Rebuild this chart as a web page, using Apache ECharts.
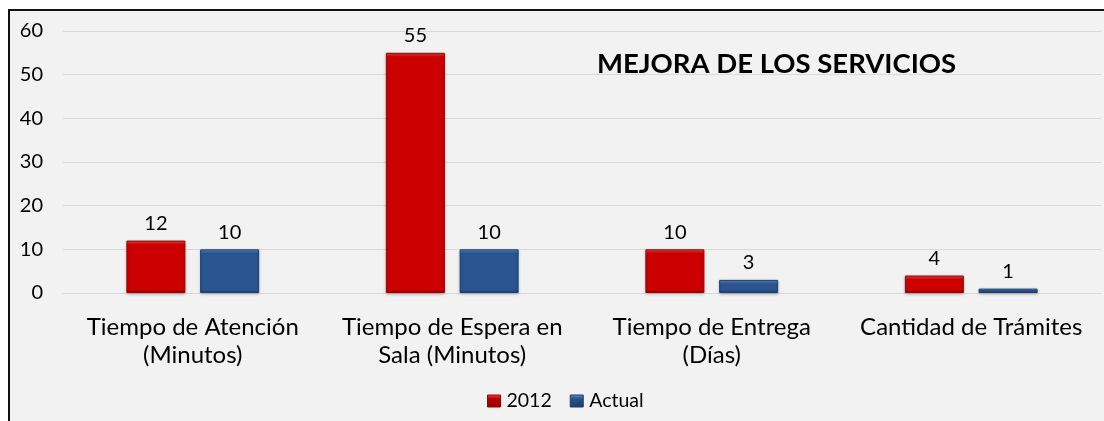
<!DOCTYPE html>
<html>
<head>
<meta charset="utf-8">
<script src="https://cdn.jsdelivr.net/npm/echarts@6/dist/echarts.min.js"></script>
<style>
html,body{margin:0;padding:0;background:#fff;overflow:hidden;width:1104px;height:421px;}
#chart{position:absolute;left:8px;top:9px;width:1096px;height:412px;
border-left:2px solid #111;border-top:2px solid #111;background:#f2f2f2;}
</style>
</head>
<body>
<div id="chart"></div>
<script>
// datos del gráfico
const categorias = [
"Tiempo de Atención\n(Minutos)",
"Tiempo de Espera en\nSala (Minutos)",
"Tiempo de Entrega\n(Días)",
"Cantidad de Trámites"
];
const valores2012 = [12, 55, 10, 4];
const valoresActual = [10, 10, 3, 1];
const ticksY = [0, 10, 20, 30, 40, 50, 60];

const fuente = "Lato, 'Open Sans', sans-serif";

// px por unidad (alto del área / rango) para un bisel de alto fijo
const altoGrid = 262;
const pxUnidad = altoGrid / (ticksY[ticksY.length-1] - ticksY[0]);

function bisel(claro, medio, oscuro){
return function(p){
const h = Math.max(p.value * pxUnidad, 1);
const a = Math.min(4 / h, 0.45);
const b = Math.min(3 / h, 0.45);
return new echarts.graphic.LinearGradient(0,0,0,1,[
{offset:0,color:claro},
{offset:a,color:medio},
{offset:1-b,color:medio},
{offset:1,color:oscuro}
]);
};
}

function cuadro(claro, medio, oscuro){
return new echarts.graphic.LinearGradient(0,0,0,1,[
{offset:0,color:claro},
{offset:0.3,color:medio},
{offset:1,color:oscuro}
]);
}

const chart = echarts.init(document.getElementById("chart"));

chart.setOption({
backgroundColor:"#f2f2f2",
animation:false,
title:{
text:"MEJORA DE LOS SERVICIOS",
left:582,
top:34,
textStyle:{fontFamily:fuente,fontSize:27.5,fontWeight:"bold",color:"#000"}
},
legend:{
top:375,
left:472,
icon:"rect",
itemWidth:13,
itemHeight:12,
itemGap:18,
textStyle:{fontFamily:fuente,fontSize:19.5,color:"#000",padding:[0,0,0,1]},
data:[
{name:"2012",itemStyle:{color:cuadro("#e85050","#c00000","#8a0000"),borderColor:"#9a0000",borderWidth:1}},
{name:"Actual",itemStyle:{color:cuadro("#6a92c8","#2a5591","#1a3a66"),borderColor:"#1d3f6e",borderWidth:1}}
]
},
grid:{left:53,right:5,top:20,bottom:130,containLabel:false},
xAxis:{
type:"category",
data:categorias,
axisLine:{show:true,lineStyle:{color:"#d9d9d9"}},
axisTick:{show:false},
axisLabel:{fontFamily:fuente,fontSize:24,color:"#000",lineHeight:28,margin:20,interval:0}
},
yAxis:{
type:"value",
min:ticksY[0],
max:ticksY[ticksY.length-1],
interval:10,
axisLine:{show:false},
axisTick:{show:false},
splitLine:{lineStyle:{color:"#d9d9d9"}},
axisLabel:{fontFamily:fuente,fontSize:20,color:"#000",margin:20,align:"right"}
},
series:[
{
name:"2012",
type:"bar",
data:valores2012,
barWidth:59,
barGap:"25%",
itemStyle:{
color:bisel("#f24a4a","#cc0000","#8a0000"),
borderColor:"#9a0000",
borderWidth:1,
shadowColor:"rgba(0,0,0,0.25)",
shadowBlur:3,
shadowOffsetY:1
},
label:{show:true,position:"top",distance:7,fontFamily:fuente,fontSize:20,color:"#000"}
},
{
name:"Actual",
type:"bar",
data:valoresActual,
barWidth:59,
itemStyle:{
color:bisel("#5f8bc6","#2a5591","#1a3a66"),
borderColor:"#1d3f6e",
borderWidth:1,
shadowColor:"rgba(0,0,0,0.25)",
shadowBlur:3,
shadowOffsetY:1
},
label:{show:true,position:"top",distance:7,fontFamily:fuente,fontSize:20,color:"#000"}
}
]
});

window.addEventListener("resize",()=>chart.resize());
</script>
</body>
</html>
